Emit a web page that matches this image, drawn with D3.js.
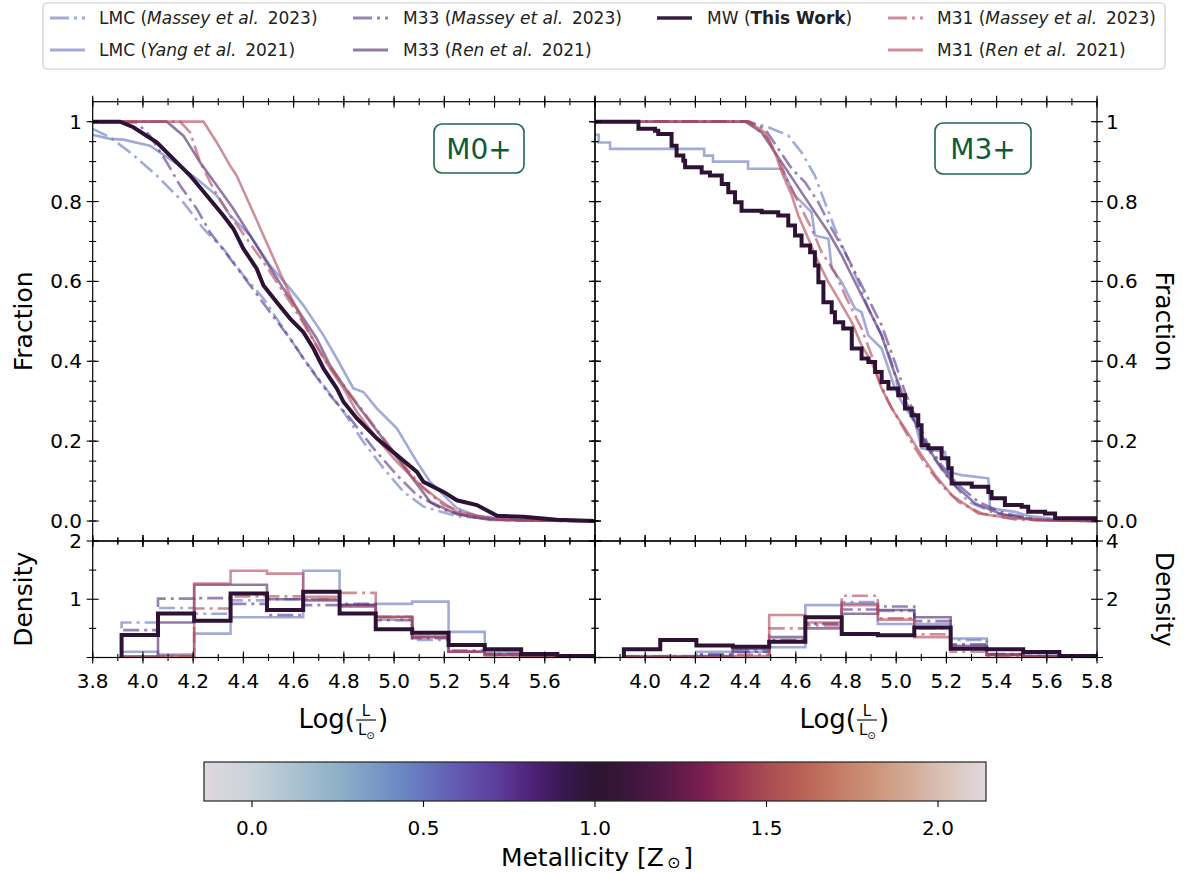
<!DOCTYPE html>
<html>
<head>
<meta charset="utf-8">
<script src="https://cdn.jsdelivr.net/npm/d3@7"></script>
<style>
  body { margin: 0; background: #fff; }
  svg { font-family: 'DejaVu Sans', sans-serif; }
</style>
</head>
<body>
<svg width="1190" height="873"></svg>
<script>
// ---------- data ----------
const binEdges = [3.915, 4.06, 4.204, 4.349, 4.494, 4.638, 4.783, 4.927, 5.072, 5.217, 5.361, 5.506, 5.65, 5.795];

// M0+ cumulative fractions [logL, fraction]
const lmcMasseyM0 = [[3.8,0.982],[3.869,0.961],[3.949,0.923],[4.055,0.865],[4.161,0.798],[4.241,0.732],[4.267,0.715],[4.32,0.682],[4.4,0.615],[4.48,0.557],[4.559,0.482],[4.639,0.407],[4.719,0.34],[4.799,0.273],[4.878,0.198],[4.958,0.132],[5.038,0.073],[5.117,0.036],[5.25,0.012],[5.449,0.002],[5.8,0]];
const lmcYangM0 = [[3.8,0.967],[3.869,0.957],[3.922,0.955],[4.028,0.94],[4.068,0.923],[4.135,0.894],[4.214,0.857],[4.294,0.815],[4.347,0.765],[4.427,0.715],[4.506,0.64],[4.586,0.582],[4.639,0.54],[4.719,0.465],[4.772,0.407],[4.838,0.332],[4.878,0.323],[4.931,0.282],[5.011,0.232],[5.091,0.148],[5.144,0.098],[5.197,0.065],[5.25,0.032],[5.33,0.013],[5.449,0.005],[5.648,0.001],[5.8,0]];
const m33MasseyM0 = [[3.8,1],[3.975,0.998],[4.028,0.965],[4.095,0.898],[4.148,0.84],[4.214,0.782],[4.267,0.723],[4.347,0.657],[4.427,0.59],[4.506,0.523],[4.586,0.457],[4.666,0.382],[4.745,0.315],[4.825,0.257],[4.918,0.182],[5.011,0.115],[5.091,0.065],[5.197,0.028],[5.33,0.008],[5.515,0.001],[5.8,0]];
const m33RenM0 = [[3.8,1],[4.095,1],[4.161,0.965],[4.228,0.898],[4.294,0.84],[4.36,0.782],[4.427,0.715],[4.493,0.648],[4.559,0.582],[4.613,0.532],[4.692,0.457],[4.745,0.39],[4.825,0.315],[4.905,0.248],[4.985,0.182],[5.064,0.115],[5.144,0.048],[5.25,0.017],[5.383,0.003],[5.8,0]];
const mwM0 = [[3.8,1],[3.909,1],[3.962,0.986],[4.055,0.948],[4.135,0.898],[4.188,0.865],[4.254,0.815],[4.32,0.765],[4.36,0.732],[4.4,0.682],[4.453,0.632],[4.48,0.59],[4.533,0.548],[4.586,0.507],[4.639,0.473],[4.679,0.432],[4.719,0.382],[4.745,0.357],[4.772,0.332],[4.799,0.298],[4.852,0.257],[4.931,0.207],[5.011,0.165],[5.091,0.123],[5.117,0.098],[5.197,0.073],[5.25,0.052],[5.33,0.04],[5.41,0.013],[5.515,0.011],[5.648,0.003],[5.8,0]];
const m31MasseyM0 = [[3.8,1],[4.148,1],[4.188,0.973],[4.228,0.898],[4.281,0.832],[4.347,0.765],[4.413,0.707],[4.48,0.648],[4.533,0.598],[4.586,0.548],[4.652,0.482],[4.719,0.407],[4.799,0.34],[4.878,0.273],[4.958,0.207],[5.038,0.14],[5.117,0.082],[5.197,0.04],[5.317,0.013],[5.449,0.002],[5.8,0]];
const m31RenM0 = [[3.8,1],[4.241,1],[4.294,0.948],[4.347,0.89],[4.373,0.865],[4.427,0.79],[4.48,0.715],[4.533,0.64],[4.586,0.565],[4.639,0.498],[4.692,0.44],[4.745,0.382],[4.799,0.332],[4.852,0.273],[4.931,0.207],[5.011,0.148],[5.091,0.098],[5.17,0.057],[5.25,0.023],[5.383,0.007],[5.515,0.001],[5.8,0]];

// M3+ cumulative fractions
const lmcMasseyM3 = [[3.8,1],[4.411,1],[4.491,0.986],[4.57,0.965],[4.623,0.923],[4.676,0.865],[4.716,0.798],[4.756,0.732],[4.796,0.673],[4.849,0.598],[4.889,0.532],[4.942,0.465],[4.982,0.398],[5.008,0.332],[5.048,0.282],[5.088,0.223],[5.141,0.165],[5.208,0.107],[5.287,0.048],[5.394,0.019],[5.526,0.007],[5.686,0.001],[5.8,0]];
const lmcYangM3 = [[3.8,0.967],[3.815,0.967],[3.815,0.948],[3.86,0.948],[3.86,0.932],[4.235,0.932],[4.235,0.915],[4.27,0.915],[4.27,0.9],[4.41,0.9],[4.41,0.882],[4.545,0.882],[4.597,0.815],[4.663,0.773],[4.676,0.715],[4.73,0.707],[4.743,0.632],[4.783,0.598],[4.836,0.532],[4.862,0.523],[4.889,0.465],[4.942,0.432],[4.969,0.382],[4.995,0.332],[5.022,0.298],[5.075,0.248],[5.101,0.182],[5.194,0.173],[5.208,0.123],[5.261,0.115],[5.367,0.107],[5.374,0.032],[5.473,0.023],[5.526,0.013],[5.659,0.003],[5.8,0]];
const m33MasseyM3 = [[3.8,1],[4.411,1],[4.477,0.982],[4.53,0.932],[4.584,0.882],[4.637,0.848],[4.69,0.798],[4.743,0.732],[4.796,0.673],[4.849,0.607],[4.902,0.54],[4.942,0.49],[4.995,0.398],[5.035,0.323],[5.075,0.265],[5.128,0.19],[5.181,0.14],[5.248,0.09],[5.327,0.048],[5.433,0.019],[5.566,0.004],[5.8,0]];
const m33RenM3 = [[3.8,1],[4.398,1],[4.464,0.973],[4.517,0.923],[4.57,0.873],[4.623,0.823],[4.676,0.773],[4.73,0.723],[4.783,0.665],[4.836,0.598],[4.889,0.532],[4.942,0.465],[4.982,0.39],[5.022,0.323],[5.075,0.248],[5.128,0.182],[5.181,0.132],[5.234,0.09],[5.314,0.044],[5.42,0.017],[5.553,0.002],[5.8,0]];
const mwM3 = [[3.8,1],[3.913,1],[3.973,0.982],[4.039,0.977],[4.052,0.969],[4.105,0.94],[4.125,0.915],[4.152,0.902],[4.159,0.886],[4.225,0.873],[4.258,0.865],[4.305,0.844],[4.331,0.823],[4.358,0.798],[4.384,0.777],[4.464,0.773],[4.53,0.765],[4.57,0.74],[4.597,0.715],[4.623,0.69],[4.657,0.673],[4.676,0.64],[4.69,0.598],[4.71,0.548],[4.743,0.523],[4.756,0.498],[4.789,0.482],[4.823,0.432],[4.862,0.407],[4.889,0.398],[4.916,0.373],[4.942,0.348],[4.969,0.332],[5.008,0.315],[5.035,0.282],[5.062,0.265],[5.088,0.24],[5.101,0.19],[5.128,0.182],[5.181,0.157],[5.208,0.132],[5.221,0.094],[5.301,0.086],[5.367,0.073],[5.38,0.057],[5.433,0.04],[5.5,0.036],[5.526,0.023],[5.593,0.019],[5.633,0.007],[5.8,0.003]];
const m31MasseyM3 = [[3.8,1],[4.411,1],[4.491,0.957],[4.53,0.907],[4.57,0.848],[4.61,0.798],[4.663,0.732],[4.703,0.673],[4.756,0.623],[4.796,0.565],[4.836,0.515],[4.862,0.482],[4.902,0.415],[4.929,0.357],[4.969,0.298],[5.022,0.24],[5.075,0.182],[5.128,0.132],[5.181,0.09],[5.248,0.048],[5.341,0.019],[5.473,0.004],[5.659,0.001],[5.8,0]];
const m31RenM3 = [[3.8,1],[4.411,1],[4.477,0.973],[4.517,0.923],[4.544,0.873],[4.584,0.815],[4.61,0.765],[4.65,0.707],[4.69,0.648],[4.73,0.598],[4.769,0.557],[4.823,0.498],[4.862,0.44],[4.902,0.398],[4.942,0.332],[4.982,0.282],[5.035,0.232],[5.101,0.165],[5.155,0.115],[5.221,0.065],[5.327,0.019],[5.46,0.007],[5.633,0.001],[5.8,0]];

// densities per bin
const lmcMasseyH0 = [0.6, 0.85, 0.75, 0.98, 1.0, 1.0, 0.9, 0.65, 0.3, 0.1, 0.05, 0.02, 0.01];
const lmcYangH0   = [0.1, 0.05, 0.41, 0.69, 0.69, 1.49, 0.9, 0.92, 0.96, 0.44, 0.1, 0.03, 0.01];
const m33MasseyH0 = [0.47, 1.01, 1.02, 0.92, 0.73, 0.9, 0.92, 0.64, 0.33, 0.12, 0.06, 0.02, 0.01];
const m33RenH0    = [0.02, 0.6, 1.25, 1.25, 1.0, 0.98, 0.9, 0.7, 0.35, 0.1, 0.05, 0.02, 0.01];
const mwH0        = [0.386, 0.757, 0.632, 1.1, 0.815, 1.13, 0.757, 0.483, 0.426, 0.215, 0.14, 0.06, 0.026];
const m31MasseyH0 = [0.0, 0.02, 0.84, 1.05, 1.05, 1.0, 1.11, 0.7, 0.35, 0.1, 0.04, 0.02, 0.01];
const m31RenH0    = [0.0, 0.03, 1.27, 1.49, 1.44, 1.04, 0.87, 0.69, 0.36, 0.1, 0.04, 0.02, 0.01];

const lmcMasseyH3 = [0.02, 0.02, 0.1, 0.25, 0.55, 1.17, 1.9, 1.6, 1.0, 0.6, 0.1, 0.05, 0.02];
const lmcYangH3   = [0.05, 0.05, 0.2, 0.2, 0.35, 1.8, 1.85, 1.15, 1.15, 0.65, 0.1, 0.05, 0.02];
const m33MasseyH3 = [0.02, 0.02, 0.1, 0.2, 0.6, 1.15, 1.65, 1.75, 1.25, 0.45, 0.12, 0.05, 0.02];
const m33RenH3    = [0.02, 0.02, 0.05, 0.3, 0.7, 1.0, 1.5, 1.63, 1.38, 0.4, 0.1, 0.05, 0.01];
const mwH3        = [0.28, 0.6, 0.41, 0.37, 0.54, 1.38, 0.81, 0.76, 1.03, 0.3, 0.28, 0.19, 0.05];
const m31MasseyH3 = [0.0, 0.0, 0.02, 0.1, 1.0, 1.1, 2.12, 1.35, 0.8, 0.2, 0.05, 0.02, 0.0];
const m31RenH3    = [0.0, 0.0, 0.02, 0.05, 1.46, 1.2, 1.8, 1.3, 0.7, 0.3, 0.08, 0.03, 0.0];

const xTickLeft = ['3.8','4.0','4.2','4.4','4.6','4.8','5.0','5.2','5.4','5.6'];
const xTickRight = ['4.0','4.2','4.4','4.6','4.8','5.0','5.2','5.4','5.6','5.8'];
const fracTicks = [1, 0.8, 0.6, 0.4, 0.2, 0.0];
const fracLabels = ['1', '0.8', '0.6', '0.4', '0.2', '0.0'];
const cbarTicks = [0.0, 0.5, 1.0, 1.5, 2.0];

// twilight-like colour map stops
const twilightStops = [0, 0.06, 0.17, 0.24, 0.28, 0.33, 0.38, 0.42, 0.46, 0.5, 0.55, 0.6, 0.64, 0.68, 0.72, 0.77, 0.81, 0.86, 0.9, 0.95, 1];
const twilightColors = ['#e0d8e0','#c8d3d9','#8fb1c9','#6f8fc4','#6676bd','#6356b0','#5c3a98','#4e2278','#3a1750','#2c1530','#3f1540','#5c1a48','#7b1f50','#963450','#a94c52','#bb6456','#c47c66','#cb957a','#d2aa94','#dac4ba','#e0d8e0'];

// ---------- series styling ----------
const series = [
  {label: ['LMC (', 'Massey et al.', ' 2023)'], m0: lmcMasseyM0, m3: lmcMasseyM3, h0: lmcMasseyH0, h3: lmcMasseyH3, color: '#6878c4', dash: true},
  {label: ['LMC (', 'Yang et al.', ' 2021)'], m0: lmcYangM0, m3: lmcYangM3, h0: lmcYangH0, h3: lmcYangH3, color: '#6878c4', dash: false},
  {label: ['M33 (', 'Massey et al.', ' 2023)'], m0: m33MasseyM0, m3: m33MasseyM3, h0: m33MasseyH0, h3: m33MasseyH3, color: '#5a3590', dash: true},
  {label: ['M33 (', 'Ren et al.', ' 2021)'], m0: m33RenM0, m3: m33RenM3, h0: m33RenH0, h3: m33RenH3, color: '#4e2a70', dash: false},
  {label: ['M31 (', 'Massey et al.', ' 2023)'], m0: m31MasseyM0, m3: m31MasseyM3, h0: m31MasseyH0, h3: m31MasseyH3, color: '#b4485a', dash: true},
  {label: ['M31 (', 'Ren et al.', ' 2021)'], m0: m31RenM0, m3: m31RenM3, h0: m31RenH0, h3: m31RenH3, color: '#b4485a', dash: false},
  {label: null, m0: mwM0, m3: mwM3, h0: mwH0, h3: mwH3, color: '#2d1236', dash: false, mw: true}
];
const dashArr = '16,5,3,5';

const svg = d3.select('svg');

const xL = d3.scaleLinear().domain([3.8, 5.8]).range([92.7, 595]);
const xR = d3.scaleLinear().domain([3.8, 5.8]).range([595, 1097]);
const yTop = d3.scaleLinear().domain([-0.05, 1.05]).range([541, 101.7]);
const yBotL = d3.scaleLinear().domain([0, 2]).range([657.5, 541]);
const yBotR = d3.scaleLinear().domain([0, 4]).range([657.5, 541]);

const panels = [
  {x: xL, y: yTop, key: 'm0', kind: 'cdf', id: 'tl'},
  {x: xR, y: yTop, key: 'm3', kind: 'cdf', id: 'tr'},
  {x: xL, y: yBotL, key: 'h0', kind: 'hist', id: 'bl'},
  {x: xR, y: yBotR, key: 'h3', kind: 'hist', id: 'br'}
];

const defs = svg.append('defs');
panels.forEach(p => {
  const [x0, x1] = p.x.range();
  const [y0, y1] = p.y.range();
  defs.append('clipPath').attr('id', 'clip-' + p.id)
    .append('rect').attr('x', x0).attr('y', y1).attr('width', x1 - x0).attr('height', y0 - y1);
});

function histPoints(vals) {
  const pts = [[binEdges[0], 0]];
  vals.forEach((v, i) => { pts.push([binEdges[i], v]); pts.push([binEdges[i + 1], v]); });
  pts.push([binEdges[binEdges.length - 1], 0]);
  return pts;
}

panels.forEach(p => {
  const g = svg.append('g').attr('clip-path', `url(#clip-${p.id})`);
  series.forEach(s => {
    const pts = p.kind === 'cdf' ? s[p.key] : histPoints(s[p.key]);
    const stepped = p.kind === 'cdf' && p.key === 'm3' && s.mw;
    const line = d3.line().x(d => p.x(d[0])).y(d => p.y(d[1]))
      .curve(stepped ? d3.curveStepAfter : d3.curveLinear);
    g.append('path').attr('d', line(pts))
      .attr('fill', 'none')
      .attr('stroke', s.color)
      .attr('stroke-opacity', s.mw ? 1 : 0.62)
      .attr('stroke-width', s.mw ? 4 : 2.6)
      .attr('stroke-linejoin', 'miter')
      .attr('stroke-dasharray', s.dash ? dashArr : null);
  });
});

// ---------- frames and ticks ----------
function ticksX(scale, y, minor) {
  const vals = d3.range(3.8, 5.81, minor ? 0.1 : 0.2);
  vals.forEach(v => {
    const len = minor ? 3.5 : 6;
    svg.append('line').attr('x1', scale(v)).attr('x2', scale(v))
      .attr('y1', y - len).attr('y2', y + len).attr('stroke', '#000').attr('stroke-width', 1.1);
  });
}
function ticksY(scale, x, vals, minor) {
  vals.forEach(v => {
    const len = minor ? 3.5 : 6;
    svg.append('line').attr('x1', x - len).attr('x2', x + len)
      .attr('y1', scale(v)).attr('y2', scale(v)).attr('stroke', '#000').attr('stroke-width', 1.1);
  });
}

panels.forEach(p => {
  const [x0, x1] = p.x.range();
  const [y0, y1] = p.y.range();
  svg.append('rect').attr('x', x0).attr('y', y1).attr('width', x1 - x0).attr('height', y0 - y1)
    .attr('fill', 'none').attr('stroke', '#000').attr('stroke-width', 1.2);
  [y0, y1].forEach(yy => { ticksX(p.x, yy, false); ticksX(p.x, yy, true); });
  let majors, minors;
  if (p.kind === 'cdf') {
    majors = d3.range(0, 1.01, 0.2);
    minors = d3.range(0, 1.01, 0.05);
  } else if (p.id === 'bl') {
    majors = [0, 1, 2]; minors = [0.5, 1.5];
  } else {
    majors = [0, 2, 4]; minors = [1, 3];
  }
  [x0, x1].forEach(xx => { ticksY(p.y, xx, majors, false); ticksY(p.y, xx, minors, true); });
});

// ---------- tick labels ----------
const tickFont = '20px';
xTickLeft.forEach(t => {
  svg.append('text').attr('x', xL(+t)).attr('y', 688).attr('text-anchor', 'middle')
    .style('font-size', tickFont).text(t);
});
xTickRight.forEach(t => {
  svg.append('text').attr('x', xR(+t)).attr('y', 688).attr('text-anchor', 'middle')
    .style('font-size', tickFont).text(t);
});
fracTicks.forEach((v, i) => {
  svg.append('text').attr('x', 82).attr('y', yTop(v) + 7).attr('text-anchor', 'end')
    .style('font-size', tickFont).text(fracLabels[i]);
  svg.append('text').attr('x', 1106).attr('y', yTop(v) + 7).attr('text-anchor', 'start')
    .style('font-size', tickFont).text(fracLabels[i]);
});
[[2, '2'], [1, '1']].forEach(([v, t]) => {
  svg.append('text').attr('x', 82).attr('y', yBotL(v) + 7).attr('text-anchor', 'end')
    .style('font-size', tickFont).text(t);
});
[[4, '4'], [2, '2']].forEach(([v, t]) => {
  svg.append('text').attr('x', 1106).attr('y', yBotR(v) + 7).attr('text-anchor', 'start')
    .style('font-size', tickFont).text(t);
});

// ---------- axis titles ----------
const titleFont = '25px';
svg.append('text').attr('transform', `translate(32,${(101.7 + 541) / 2}) rotate(-90)`)
  .attr('text-anchor', 'middle').style('font-size', titleFont).text('Fraction');
svg.append('text').attr('transform', `translate(1156,${(101.7 + 541) / 2}) rotate(90)`)
  .attr('text-anchor', 'middle').style('font-size', titleFont).text('Fraction');
svg.append('text').attr('transform', `translate(32,${(541 + 657.5) / 2}) rotate(-90)`)
  .attr('text-anchor', 'middle').style('font-size', titleFont).text('Density');
svg.append('text').attr('transform', `translate(1156,${(541 + 657.5) / 2}) rotate(90)`)
  .attr('text-anchor', 'middle').style('font-size', titleFont).text('Density');

function xLabel(cx) {
  // cx = centre of the fraction
  const g = svg.append('g').attr('transform', `translate(${cx},728)`);
  g.append('text').attr('x', -11).attr('text-anchor', 'end').style('font-size', '26px').text('Log(');
  g.append('text').attr('x', 0).attr('y', -12).attr('text-anchor', 'middle').style('font-size', '15px').text('L');
  g.append('line').attr('x1', -10).attr('x2', 10).attr('y1', -8).attr('y2', -8).attr('stroke', '#000').attr('stroke-width', 1.1);
  const b = g.append('text').attr('x', -8).attr('y', 7).style('font-size', '15px');
  b.append('tspan').text('L');
  b.append('tspan').attr('dy', 4).style('font-size', '10px').text('\u2299');
  g.append('text').attr('x', 12).style('font-size', '26px').text(')');
}
xLabel(366);
xLabel(867);

// ---------- panel tags ----------
function tag(x, y, w, h, txt) {
  svg.append('rect').attr('x', x).attr('y', y).attr('width', w).attr('height', h)
    .attr('rx', 8).attr('fill', '#fff').attr('stroke', '#1e6a45').attr('stroke-width', 1.6);
  svg.append('text').attr('x', x + w / 2).attr('y', y + h / 2 + 10).attr('text-anchor', 'middle')
    .style('font-size', '28px').attr('fill', '#0f5a37').text(txt);
}
tag(434, 124, 90, 49, 'M0+');
tag(935, 123, 96, 51, 'M3+');

// ---------- legend ----------
svg.append('rect').attr('x', 43).attr('y', 3).attr('width', 1122).attr('height', 66)
  .attr('rx', 4).attr('fill', '#fff').attr('stroke', '#cccccc').attr('stroke-width', 1.2);
const legendSlots = [
  {s: 0, hx: 50, tx: 99, y: 18}, {s: 1, hx: 50, tx: 99, y: 50},
  {s: 2, hx: 353, tx: 403, y: 18}, {s: 3, hx: 353, tx: 403, y: 50},
  {s: 6, hx: 657, tx: 707, y: 18},
  {s: 4, hx: 888, tx: 937, y: 18}, {s: 5, hx: 888, tx: 937, y: 50}
];
legendSlots.forEach(sl => {
  const s = series[sl.s];
  svg.append('line').attr('x1', sl.hx).attr('x2', sl.hx + 35).attr('y1', sl.y).attr('y2', sl.y)
    .attr('stroke', s.color).attr('stroke-opacity', s.mw ? 0.95 : 0.62)
    .attr('stroke-width', s.mw ? 3.5 : 3)
    .attr('stroke-dasharray', s.dash ? '19,5,3,5' : null);
  const t = svg.append('text').attr('x', sl.tx).attr('y', sl.y + 6).style('font-size', '17px').attr('fill', '#222');
  if (s.mw) {
    t.append('tspan').text('MW (');
    t.append('tspan').style('font-weight', 'bold').text('This Work');
    t.append('tspan').text(')');
  } else {
    t.append('tspan').text(s.label[0]);
    t.append('tspan').style('font-style', 'italic').text(s.label[1]);
    t.append('tspan').text('\u2009' + s.label[2]);
  }
});

// ---------- colour bar ----------
const cb = {x0: 204, x1: 986, y0: 762, y1: 801};
const cbScale = d3.scaleLinear().domain([-0.14, 2.14]).range([cb.x0, cb.x1]);
const twilight = d3.scaleLinear().domain(twilightStops).range(twilightColors).interpolate(d3.interpolateRgb);
const grad = defs.append('linearGradient').attr('id', 'cbgrad');
d3.range(0, 1.0001, 0.01).forEach(t => {
  grad.append('stop').attr('offset', t).attr('stop-color', twilight(t));
});
svg.append('rect').attr('x', cb.x0).attr('y', cb.y0).attr('width', cb.x1 - cb.x0).attr('height', cb.y1 - cb.y0)
  .attr('fill', 'url(#cbgrad)').attr('stroke', '#222').attr('stroke-width', 1.2);
cbarTicks.forEach(v => {
  svg.append('line').attr('x1', cbScale(v)).attr('x2', cbScale(v)).attr('y1', cb.y1).attr('y2', cb.y1 + 6)
    .attr('stroke', '#000').attr('stroke-width', 1.1);
  svg.append('text').attr('x', cbScale(v)).attr('y', 835).attr('text-anchor', 'middle')
    .style('font-size', tickFont).text(v.toFixed(1));
});
const ml = svg.append('text').attr('x', 597).attr('y', 866).attr('text-anchor', 'middle').style('font-size', '25px');
ml.append('tspan').text('Metallicity [Z');
ml.append('tspan').attr('dx', 3).attr('dy', 2).style('font-size', '16px').text('\u2299');
ml.append('tspan').attr('dx', 3).attr('dy', -2).text(']');
</script>
</body>
</html>
